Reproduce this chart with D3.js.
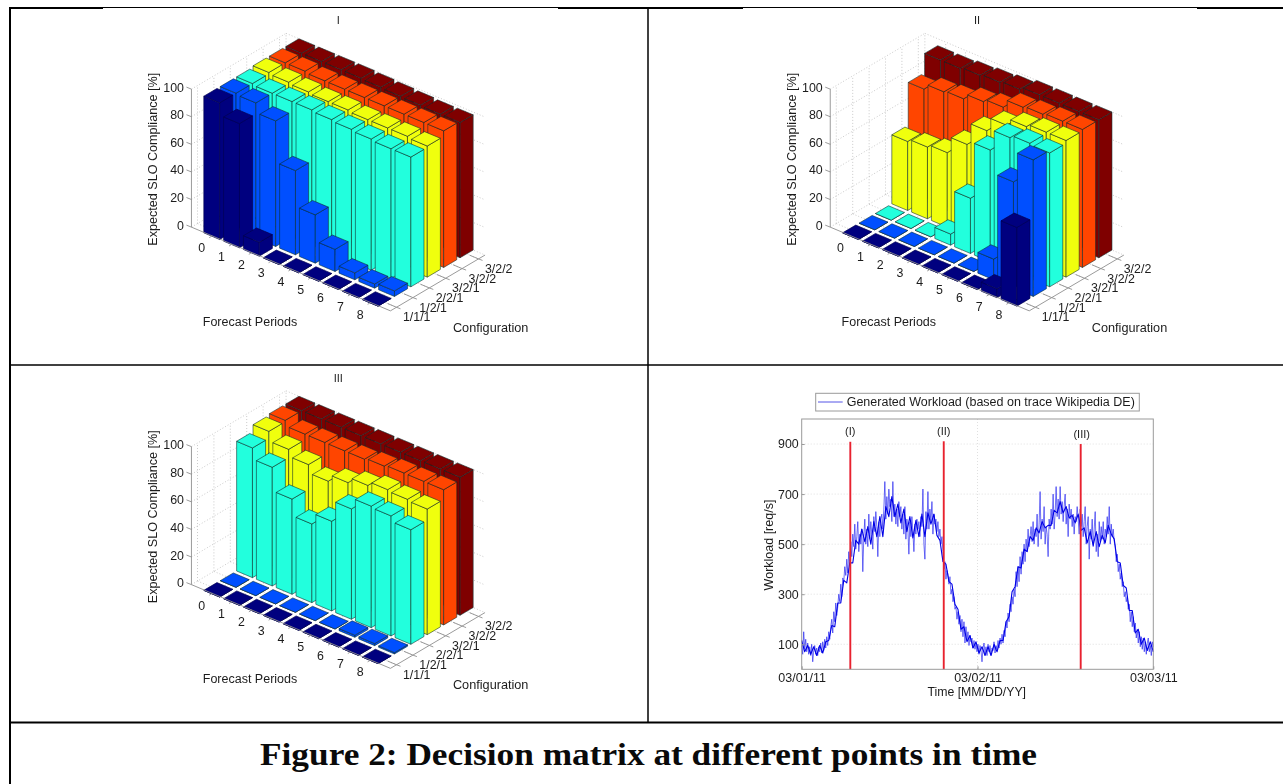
<!DOCTYPE html>
<html><head><meta charset="utf-8">
<script src="https://cdn.jsdelivr.net/npm/d3@7"></script>
<style>
html,body{margin:0;padding:0;background:#fff;overflow:hidden}
svg{display:block}
text{font-family:"Liberation Sans",Arial,sans-serif;fill:#1c1c1c}
</style></head><body>
<svg id="c" width="1283" height="784"></svg>
<script>
const forecastPeriods=[0,1,2,3,4,5,6,7,8];
const configurations=["1/1/1","1/2/1","2/2/1","3/2/1","3/2/2","3/2/2"];
const configColors=["#00007f","#0050ff","#20ffdd","#f0ff10","#ff4500","#7f0000"];
const zTicks=[0,20,40,60,80,100];

const sloI=[
 [99,90,10,0,0,0,0,0,0],
 [99,98,91,61,35,16,5,3,4],
 [99,98,98,98,97,96,95,94,94],
 [100,99,98,97,97,96,96,96,95],
 [100,100,99,99,99,99,99,99,99],
 [100,100,100,100,99.5,99,98.5,98,98]];
const sloII=[
 [0,0,0,0,0,0,0,6.5,57],
 [0,0,0,0,0,0,15,77,99],
 [0,0,0,8,40,81,96,98,97],
 [50,52,54,66,82,92,97,99,99],
 [81,85,86,90,92,98,99,100,100],
 [95,95,96,97,98,100,100,100,100]];
const sloIII=[
 [0,0,0,0,0,0,0,0,0],
 [0,0,0,0,0,0,1.5,1.5,1],
 [94,86,69,57,65,80,88,87,83],
 [99,92,87,81,86,90,93,92,91],
 [100,96,96,96,96,97,98,98,98],
 [100,100,100,100,100,100,100,100,100]];

const workload=[
95,60,150,80,120,70,105,60,90,55,100,30,75,95,60,85,55,90,70,105,65,110,75,120,85,
130,95,150,120,170,200,145,230,190,265,215,250,300,270,340,290,365,350,410,375,
440,385,470,420,510,450,540,490,580,480,530,590,470,540,500,560,
390,530,600,500,560,490,620,520,590,540,480,610,550,630,570,450,590,530,600,620,560,640,
750,600,690,620,720,650,680,590,750,610,660,580,640,570,670,610,650,560,
620,540,650,520,600,560,460,590,530,610,550,470,580,540,600,560,590,530,610,570,720,500,440,630,560,
710,560,640,590,670,540,620,580,600,550,590,530,560,500,530,
470,400,430,360,395,380,340,370,300,320,
270,290,240,250,200,230,180,215,150,200,130,190,105,170,115,150,95,135,110,125,
85,115,80,105,70,100,60,95,75,30,85,105,65,90,55,100,70,95,60,85,75,110,65,95,80,115,85,125,100,
140,105,155,130,190,165,225,190,260,230,290,260,320,290,390,330,
410,350,450,380,470,420,500,430,520,470,560,490,530,570,510,
590,500,560,530,620,490,580,710,520,600,550,650,500,570,540,450,600,560,640,580,700,560,620,730,610,
680,600,730,620,670,590,650,700,580,640,530,660,600,640,570,620,540,610,590,650,
600,540,640,570,620,530,590,650,500,570,610,440,560,520,600,490,560,630,470,540,450,590,510,570,520,
590,500,560,530,610,540,650,500,580,530,560,510,
490,430,460,390,420,360,385,330,350,290,310,270,290,240,260,190,230,170,
210,150,185,125,160,105,150,90,130,80,125,70,110,60,105,125,70,95,55,110,90];
const workloadCore=[
115,70,95,60,90,55,95,65,110,115,
175,170,265,265,355,345,425,425,515,500,560,
510,570,500,590,530,610,530,
650,610,690,610,660,585,640,550,610,525,
595,530,620,530,625,580,620,
535,515,430,420,350,340,260,
240,160,170,110,135,85,110,65,
90,55,90,55,100,70,115,115,190,
210,310,330,410,405,480,470,
530,515,565,545,590,565,575,575,
635,625,670,625,650,605,615,585,
620,555,565,505,550,495,550,490,
535,505,575,540,520,430,425,335,
325,235,235,145,160,100,125,75,110,70];
const eventNames=["(I)","(II)","(III)"];
const eventDays=[0.2765,0.808,1.587];
const eventTops=[909,911,900];
const workloadTicks=[100,300,500,700,900];
const dateLabels=["03/01/11","03/02/11","03/03/11"];

const svg=d3.select("#c");
const defs=svg.append("defs");
[["b5",0.5],["b3",0.3]].forEach(([id,s])=>defs.append("filter").attr("id",id)
  .attr("x","-5%").attr("y","-5%").attr("width","110%").attr("height","110%")
  .append("feGaussianBlur").attr("stdDeviation",s));

/* ---------- table frame ---------- */
const frame=svg.append("g").attr("stroke","#000").attr("fill","none");
function rule(x1,y1,x2,y2,w){frame.append("line").attr("x1",x1).attr("y1",y1).attr("x2",x2).attr("y2",y2).attr("stroke-width",w);}
rule(10,7.5,1283,7.5,1);
rule(10,8,103,8,2);rule(558,8,743,8,2);rule(1197,8,1283,8,2);
rule(10,7,10,784,2);
rule(648,8,648,722,1.5);
rule(10,365,1283,365,1.5);
rule(10,722.5,1283,722.5,2);

/* ---------- 3-D bar panels ---------- */
const P={dx:19.8,dy:8.33}, C={dx:16.4,dy:-9.67};
const U0=-1.05,U1=9,V0=-0.37,V1=5.4,halfP=0.4,halfC=0.4;
const zScale=d3.scaleLinear().domain([0,100]).range([0,-138]);
const uX=d3.scaleLinear().domain([0,1]).range([0,P.dx]), uY=d3.scaleLinear().domain([0,1]).range([0,P.dy]);
const vX=d3.scaleLinear().domain([0,1]).range([0,C.dx]), vY=d3.scaleLinear().domain([0,1]).range([0,C.dy]);

function bars3d(data,title,ox,oy,filt){
  const g=svg.append("g").attr("filter","url(#"+filt+")");
  const pr=(u,v,z=0)=>[ox+uX(u)+vX(v), oy+uY(u)+vY(v)+zScale(z)];
  const ln=d3.line();
  const dotted=(a,b)=>g.append("path").attr("d",ln([a,b])).attr("fill","none").attr("stroke","#bdbdbd").attr("stroke-width",0.8).attr("stroke-dasharray","1 2");
  const solid=(a,b)=>g.append("path").attr("d",ln([a,b])).attr("fill","none").attr("stroke","#8f8f8f").attr("stroke-width",0.9);
  zTicks.forEach(z=>{dotted(pr(U0,V0,z),pr(U0,V1,z));dotted(pr(U0,V1,z),pr(U1,V1,z));});
  configurations.forEach((_,v)=>{dotted(pr(U0,v,0),pr(U0,v,100));dotted(pr(U0,v,0),pr(U1,v,0));});
  forecastPeriods.forEach(u=>{dotted(pr(u,V1,0),pr(u,V1,100));dotted(pr(u,V0,0),pr(u,V1,0));});
  dotted(pr(U0,V1,0),pr(U0,V1,100));
  const order=[];
  d3.range(configurations.length-1,-1,-1).forEach(v=>forecastPeriods.forEach(u=>order.push({u,v,z:data[v][u]})));
  const edge=d=>d.v===0?"#000050":"#0d2a2a";
  const bar=g.selectAll("g.bar").data(order).join("g").attr("class","bar")
    .attr("fill",d=>configColors[d.v]).attr("stroke",edge)
    .attr("stroke-opacity",d=>d.v===0?0.9:0.75).attr("stroke-width",0.75).attr("stroke-linejoin","round");
  bar.append("path").attr("d",d=>{
    const a=pr(d.u-halfP,d.v-halfC,d.z),b=pr(d.u+halfP,d.v-halfC,d.z),c=pr(d.u+halfP,d.v-halfC,0),e=pr(d.u-halfP,d.v-halfC,0);
    return ln([a,b,c,e])+"Z";});
  bar.append("path").attr("d",d=>{
    const a=pr(d.u+halfP,d.v-halfC,d.z),b=pr(d.u+halfP,d.v+halfC,d.z),c=pr(d.u+halfP,d.v+halfC,0),e=pr(d.u+halfP,d.v-halfC,0);
    return ln([a,b,c,e])+"Z";});
  bar.append("path").attr("d",d=>ln([pr(d.u-halfP,d.v-halfC,d.z),pr(d.u+halfP,d.v-halfC,d.z),pr(d.u+halfP,d.v+halfC,d.z),pr(d.u-halfP,d.v+halfC,d.z)])+"Z");
  solid(pr(U0,V0,0),pr(U0,V0,100));
  solid(pr(U0,V0,0),pr(U1,V0,0));
  solid(pr(U1,V0,0),pr(U1,V1,0));
  zTicks.forEach(z=>{const a=pr(U0,V0,z);solid([a[0]-5,a[1]-2],a);
    g.append("text").attr("x",a[0]-7.5).attr("y",a[1]-1.5).attr("text-anchor","end").attr("dominant-baseline","central").attr("font-size",12.4).text(z);});
  forecastPeriods.forEach(u=>{const a=pr(u,V0,0);solid(a,[a[0]-3,a[1]+1.8]);
    g.append("text").attr("x",a[0]-10.5).attr("y",a[1]+12.4).attr("text-anchor","middle").attr("dominant-baseline","central").attr("font-size",12.4).text(u);});
  configurations.forEach((t,v)=>{const a=pr(U1,v,0);solid(a,[a[0]+4,a[1]+1.5]);solid(a,[a[0]-9,a[1]-3.8]);
    g.append("text").attr("x",a[0]+20.2).attr("y",a[1]+10).attr("text-anchor","middle").attr("dominant-baseline","central").attr("font-size",12.4).text(t);});
  g.append("text").attr("transform",`translate(${ox-65},${oy-73}) rotate(-90)`).attr("text-anchor","middle").attr("dominant-baseline","central").attr("font-size",12.6).text("Expected SLO Compliance [%]");
  g.append("text").attr("x",ox+31.7).attr("y",oy+89.4).attr("text-anchor","middle").attr("dominant-baseline","central").attr("font-size",12.5).text("Forecast Periods");
  g.append("text").attr("x",ox+272.4).attr("y",oy+95.4).attr("text-anchor","middle").attr("dominant-baseline","central").attr("font-size",12.7).text("Configuration");
  g.append("text").attr("x",ox+120).attr("y",oy-212.3).attr("text-anchor","middle").attr("dominant-baseline","central").attr("font-size",11).text(title);
}
bars3d(sloI,"I",218.3,232.3,"b5");
bars3d(sloII,"II",857.1,232.3,"b3");
bars3d(sloIII,"III",218.3,589.8,"b3");

/* ---------- workload panel ---------- */
const g4=svg.append("g").attr("filter","url(#b5)");
const W={l:801.7,r:1153.3,t:419,b:669.3};
const start=new Date(2011,2,1), DAY=864e5;
const tx=d3.scaleTime().domain([start,new Date(start.getTime()+2*DAY)]).range([W.l,W.r]);
const ty=d3.scaleLinear().domain([0,1000]).range([W.b,W.t]);
const dayAt=i=>new Date(start.getTime()+i*2*DAY/(workload.length-1));
const coreAt=i=>new Date(start.getTime()+i*2*DAY/(workloadCore.length-1));
g4.append("g").selectAll("line").data(workloadTicks).join("line")
  .attr("x1",W.l).attr("x2",W.r).attr("y1",d=>ty(d)).attr("y2",d=>ty(d)).attr("stroke","#d8d8d8").attr("stroke-width",0.8).attr("stroke-dasharray","1 2");
const midX=tx(new Date(start.getTime()+DAY));
g4.append("line").attr("x1",midX).attr("x2",midX).attr("y1",W.t).attr("y2",W.b).attr("stroke","#d8d8d8").attr("stroke-width",0.8).attr("stroke-dasharray","1 2");
g4.append("path").datum(workload).attr("fill","none").attr("stroke","#2a2af0").attr("stroke-width",0.8).attr("stroke-opacity",0.85).attr("stroke-linejoin","round")
  .attr("d",d3.line().x((d,i)=>tx(dayAt(i))).y(d=>ty(d)));
g4.append("path").datum(workloadCore).attr("fill","none").attr("stroke","#0000e6").attr("stroke-width",1.1).attr("stroke-linejoin","round")
  .attr("d",d3.line().x((d,i)=>tx(coreAt(i))).y(d=>ty(d)));
eventDays.forEach((d,i)=>{const x=tx(new Date(start.getTime()+d*DAY));
  g4.append("line").attr("x1",x).attr("x2",x).attr("y1",ty(eventTops[i])).attr("y2",W.b).attr("stroke","#e8202f").attr("stroke-width",1.9);
  g4.append("text").attr("x",x+(i===2?1:0)).attr("y",ty(eventTops[i])-10.5).attr("text-anchor","middle").attr("dominant-baseline","central").attr("font-size",11).text(eventNames[i]);});
g4.append("rect").attr("x",W.l).attr("y",W.t).attr("width",W.r-W.l).attr("height",W.b-W.t).attr("fill","none").attr("stroke","#9a9a9a").attr("stroke-width",1);
const yAxis=d3.axisLeft(ty).tickValues(workloadTicks).tickSize(-3).tickPadding(3);
const yG=g4.append("g").attr("transform",`translate(${W.l},0)`).call(yAxis);
yG.select(".domain").remove();yG.selectAll("line").attr("stroke","#9a9a9a");
yG.selectAll("text").attr("font-size",12.4).attr("font-family",'"Liberation Sans",Arial,sans-serif').style("fill","#1c1c1c");
const xAxis=d3.axisBottom(tx).tickValues([0,1,2].map(d=>new Date(start.getTime()+d*DAY))).tickFormat((d,i)=>dateLabels[i]).tickSize(-3).tickPadding(4);
const xG=g4.append("g").attr("transform",`translate(0,${W.b})`).call(xAxis);
xG.select(".domain").remove();xG.selectAll("line").attr("stroke","#9a9a9a");
xG.selectAll("text").attr("font-size",12.5).attr("font-family",'"Liberation Sans",Arial,sans-serif').style("fill","#1c1c1c");
g4.append("text").attr("x",976.7).attr("y",691.7).attr("text-anchor","middle").attr("dominant-baseline","central").attr("font-size",12.3).text("Time [MM/DD/YY]");
g4.append("text").attr("transform","translate(769,545) rotate(-90)").attr("text-anchor","middle").attr("dominant-baseline","central").attr("font-size",12.5).text("Workload [req/s]");
g4.append("rect").attr("x",815.7).attr("y",393.3).attr("width",323.6).attr("height",17.7).attr("fill","#fff").attr("stroke","#9a9a9a").attr("stroke-width",1);
g4.append("line").attr("x1",818).attr("x2",842.7).attr("y1",402).attr("y2",402).attr("stroke","#2a2ae0").attr("stroke-width",0.8);
g4.append("text").attr("x",846.7).attr("y",402).attr("dominant-baseline","central").attr("font-size",12.5).text("Generated Workload (based on trace Wikipedia DE)");

/* ---------- caption ---------- */
svg.append("text").attr("x",648.5).attr("y",765).attr("text-anchor","middle")
  .attr("textLength",777).attr("lengthAdjust","spacingAndGlyphs")
  .style("font-family",'"Liberation Serif",serif').style("font-weight",700).style("font-size","31px").style("fill","#0a0a0a")
  .text("Figure 2: Decision matrix at different points in time");
</script>
</body></html>
